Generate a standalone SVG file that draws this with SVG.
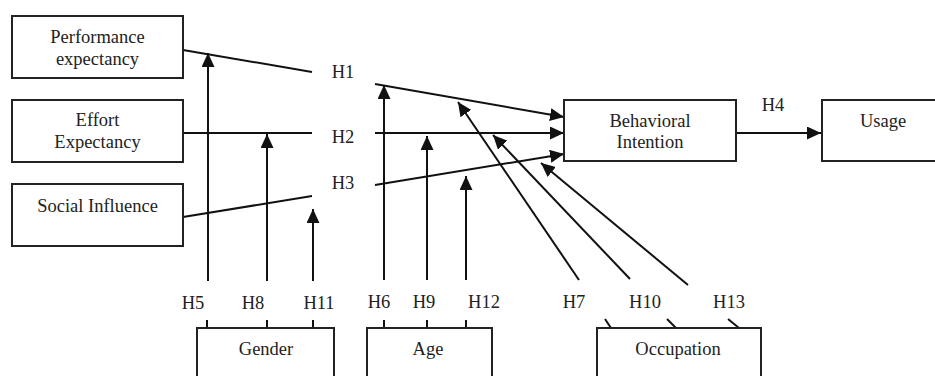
<svg xmlns="http://www.w3.org/2000/svg" width="935" height="376" viewBox="0 0 935 376">
<defs>
<marker id="ah" markerUnits="userSpaceOnUse" markerWidth="14" markerHeight="13" viewBox="0 0 14 13" refX="14" refY="6.5" orient="auto">
<path d="M0,0 L14,6.5 L0,13 Z" fill="#111"/>
</marker>
<style>
.box{fill:#fff;stroke:#222;stroke-width:2}
.ln{fill:none;stroke:#111;stroke-width:2}
.ar{fill:none;stroke:#111;stroke-width:2;marker-end:url(#ah)}
text{font-family:"Liberation Serif","Times New Roman",serif;font-size:18.5px;fill:#222;text-anchor:middle}
</style>
</defs>
<rect width="935" height="376" fill="#fff"/>
<g id="connectors">
<line class="ln" x1="183" y1="50" x2="312" y2="72"/>
<line class="ln" x1="183" y1="133" x2="312" y2="133"/>
<line class="ln" x1="183" y1="217" x2="312" y2="196"/>
<line class="ar" x1="375" y1="84" x2="564" y2="117"/>
<line class="ar" x1="375" y1="133" x2="564" y2="133"/>
<line class="ar" x1="375" y1="185" x2="564" y2="154"/>
<line class="ar" x1="736" y1="133" x2="821" y2="133"/>
<line class="ar" x1="208" y1="281" x2="208" y2="53"/>
<line class="ar" x1="267" y1="281" x2="267" y2="134"/>
<line class="ar" x1="313" y1="281" x2="313" y2="209"/>
<line class="ar" x1="384" y1="280" x2="384" y2="85"/>
<line class="ar" x1="427" y1="280" x2="427" y2="136"/>
<line class="ar" x1="466" y1="280" x2="466" y2="176"/>
<line class="ar" x1="579" y1="280" x2="458" y2="102"/>
<line class="ar" x1="630" y1="279" x2="493" y2="135"/>
<line class="ar" x1="688" y1="285" x2="541" y2="163"/>
<line class="ln" x1="207" y1="320" x2="207" y2="328"/>
<line class="ln" x1="267" y1="320" x2="267" y2="328"/>
<line class="ln" x1="313" y1="320" x2="313" y2="328"/>
<line class="ln" x1="384" y1="320" x2="384" y2="328"/>
<line class="ln" x1="427" y1="320" x2="427" y2="328"/>
<line class="ln" x1="466" y1="320" x2="466" y2="328"/>
<line class="ln" x1="605" y1="319" x2="611" y2="328"/>
<line class="ln" x1="667" y1="319" x2="676" y2="328"/>
<line class="ln" x1="728" y1="319" x2="739" y2="328"/>
</g>
<g id="labels">
<text x="343" y="78">H1</text>
<text x="343" y="143">H2</text>
<text x="343" y="189">H3</text>
<text x="773" y="111">H4</text>
<text x="193" y="309">H5</text>
<text x="253" y="309">H8</text>
<text x="319" y="309">H11</text>
<text x="379" y="308">H6</text>
<text x="424" y="308">H9</text>
<text x="484" y="308">H12</text>
<text x="574" y="308">H7</text>
<text x="645" y="308">H10</text>
<text x="729" y="308">H13</text>
</g>
<g id="performance">
<rect class="box" x="12" y="16" width="171" height="62"/>
<text x="97.5" y="43">Performance</text>
<text x="97.5" y="65">expectancy</text>
</g>
<g id="effort">
<rect class="box" x="12" y="100" width="171" height="62"/>
<text x="97.5" y="126">Effort</text>
<text x="97.5" y="148">Expectancy</text>
</g>
<g id="social">
<rect class="box" x="12" y="184" width="171" height="62"/>
<text x="97.5" y="212">Social Influence</text>
</g>
<g id="intention">
<rect class="box" x="564" y="100" width="172" height="61"/>
<text x="650" y="127">Behavioral</text>
<text x="650" y="148">Intention</text>
</g>
<g id="usage">
<rect class="box" x="822" y="100" width="120" height="61"/>
<text x="883" y="127">Usage</text>
</g>
<g id="gender">
<rect class="box" x="197" y="328" width="137" height="60"/>
<text x="266" y="355">Gender</text>
</g>
<g id="age">
<rect class="box" x="367" y="328" width="125" height="60"/>
<text x="428" y="355">Age</text>
</g>
<g id="occupation">
<rect class="box" x="597" y="328" width="164" height="60"/>
<text x="678" y="355">Occupation</text>
</g>
</svg>
